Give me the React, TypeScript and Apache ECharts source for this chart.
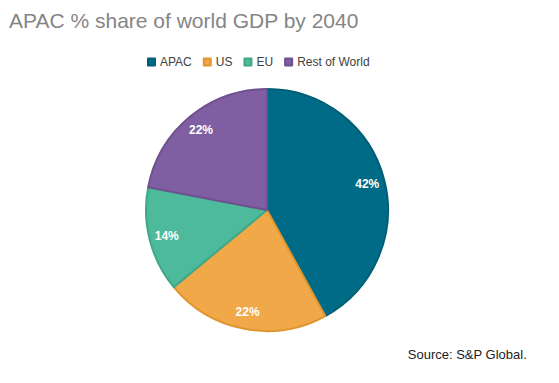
import React, { useEffect, useRef } from "react";
import * as echarts from "echarts";

const categories = ["APAC", "US", "EU", "Rest of World"];
const shares = [42, 22, 14, 22];
const colors = ["#006b86", "#f0a848", "#4dba9b", "#7f5fa1"];
const borders = ["#005e76", "#e0962f", "#3fa887", "#6f5090"];

export default function App() {
  const ref = useRef<HTMLDivElement>(null);
  useEffect(() => {
    document.body.style.margin = "0";
    const chart = echarts.init(ref.current!, null, { renderer: "svg" });
    const data = categories.map((name, i) => ({
      name,
      value: shares[i],
      itemStyle: { color: colors[i], borderColor: borders[i], borderWidth: 2 },
    }));
    chart.setOption({
      animation: false,
      backgroundColor: "#ffffff",
      title: {
        text: "APAC % share of world GDP by 2040",
        left: 4,
        top: 5,
        textStyle: {
          fontFamily: "Liberation Sans",
          fontSize: 21,
          fontWeight: "normal",
          color: "#858585",
        },
      },
      legend: {
        data: categories,
        left: 142,
        top: 51,
        icon: "rect",
        itemWidth: 7,
        itemHeight: 7,
        itemGap: 11,
        textStyle: { fontFamily: "Liberation Sans", fontSize: 12, color: "#404040" },
      },
      graphic: [
        {
          type: "text",
          right: 32,
          top: 348,
          style: {
            text: "Source: S&P Global.",
            font: "13px Liberation Sans",
            fill: "#222222",
          },
        },
      ],
      series: [
        {
          type: "pie",
          center: [267, 210],
          radius: [0, 121],
          startAngle: 90,
          clockwise: true,
          label: { show: false },
          labelLine: { show: false },
          data,
        },
        {
          type: "pie",
          center: [267, 210],
          radius: [80, 121],
          startAngle: 90,
          clockwise: true,
          silent: true,
          itemStyle: { color: "transparent", borderWidth: 0 },
          label: {
            show: true,
            position: "inside",
            formatter: "{c}%",
            color: "#ffffff",
            fontWeight: "bold",
            fontSize: 12,
            fontFamily: "Liberation Sans",
          },
          labelLine: { show: false },
          data: categories.map((name, i) => ({ name, value: shares[i] })),
        },
      ],
    });
    return () => chart.dispose();
  }, []);
  return <div ref={ref} style={{ width: 559, height: 383 }} />;
}
